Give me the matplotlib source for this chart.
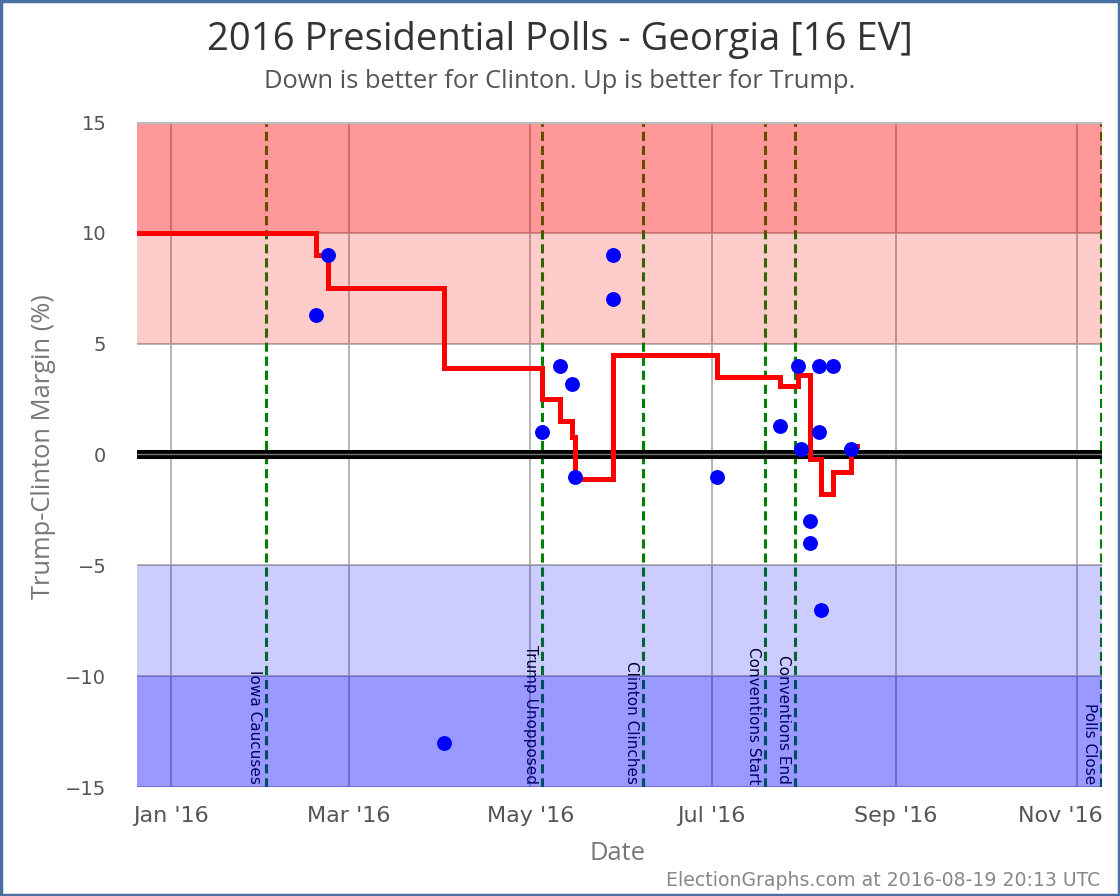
import datetime as dt
import matplotlib
matplotlib.use("Agg")
import matplotlib.pyplot as plt
import matplotlib.dates as mdates
import matplotlib.transforms as mtransforms
from matplotlib.patches import Rectangle

# ---- data ----
# running average (step line), value holds from the date on
avg_dates = ["2015-12-20", "2016-02-19", "2016-02-23", "2016-04-02", "2016-05-05",
             "2016-05-11", "2016-05-15", "2016-05-16", "2016-05-29", "2016-07-03",
             "2016-07-24", "2016-07-30", "2016-08-03", "2016-08-07", "2016-08-11",
             "2016-08-17", "2016-08-19"]
avg_values = [10.0, 9.0, 7.5, 3.9, 2.5, 1.5, 0.8, -1.1, 4.5, 3.5,
              3.1, 3.6, -0.2, -1.8, -0.8, 0.4, 0.4]

# individual polls
poll_dates = ["2016-02-19", "2016-02-23", "2016-04-02", "2016-05-05", "2016-05-11",
              "2016-05-15", "2016-05-16", "2016-05-29", "2016-05-29", "2016-07-03",
              "2016-07-24", "2016-07-30", "2016-07-31", "2016-08-03", "2016-08-03",
              "2016-08-06", "2016-08-06", "2016-08-07", "2016-08-11", "2016-08-17"]
poll_values = [6.3, 9.0, -13.0, 1.0, 4.0,
               3.2, -1.0, 9.0, 7.0, -1.0,
               1.3, 4.0, 0.25, -3.0, -4.0,
               4.0, 1.0, -7.0, 4.0, 0.25]

event_dates = ["2016-02-02", "2016-05-05", "2016-06-08", "2016-07-19", "2016-07-29", "2016-11-09"]
event_labels = ["Iowa Caucuses", "Trump Unopposed", "Clinton Clinches",
                "Conventions Start", "Conventions End", "Polls Close"]

# category bands: (low, high, colour, alpha)
bands = [(10, 15, "red", 0.4), (5, 10, "red", 0.2),
         (-10, -5, "blue", 0.2), (-15, -10, "blue", 0.4)]


def to_dt(s):
    return dt.datetime.strptime(s, "%Y-%m-%d")


head_font = "Open Sans"

W, H = 1120, 896
fig = plt.figure(figsize=(W / 100, H / 100), dpi=100)
ax = fig.add_axes([137 / W, (H - 787) / H, (1102 - 137) / W, (787 - 122) / H])

jan1 = dt.datetime(2016, 1, 1)
ax.set_xlim(jan1 - dt.timedelta(days=11.34), jan1 + dt.timedelta(days=313.4))
ax.set_ylim(-15, 15)

# grid
ax.set_yticks(range(-15, 16, 5))
ax.xaxis.set_major_locator(mdates.MonthLocator(bymonth=[1, 3, 5, 7, 9, 11]))
ax.xaxis.set_major_formatter(mdates.DateFormatter("%b '%y"))
ax.grid(True, color="#a8a8a8", linewidth=1.2, zorder=0)
ax.set_axisbelow(True)
ax.tick_params(length=0, labelcolor="#555555")
ax.tick_params(axis="x", labelsize=16, pad=14)
ax.tick_params(axis="y", labelsize=14, pad=22)
for s in ax.spines.values():
    s.set_visible(False)
ax.axhline(15, color="#bbbbbb", linewidth=2.5, zorder=3)

# event lines and labels (under the bands, like the original)
for d, lab in zip(event_dates, event_labels):
    x = to_dt(d)
    ax.axvline(x, color="#008000", linewidth=2.2, dashes=(3, 1.6), zorder=1)
    ax.annotate(lab, xy=(x, -15), xytext=(-3, 2), textcoords="offset points",
                rotation=270, ha="right", va="bottom", fontsize=11,
                color="black", family="DejaVu Sans", zorder=1)

# bands
for lo, hi, c, a in bands:
    ax.axhspan(lo, hi, color=c, alpha=a, linewidth=0, zorder=2)

# zero line
ax.axhline(0, color="black", linewidth=6.5, zorder=3)
ax.axhline(0, color="#777777", linewidth=1.0, zorder=3)

# average
ax.plot([to_dt(d) for d in avg_dates], avg_values, drawstyle="steps-post",
        color="red", linewidth=3.6, zorder=4, solid_joinstyle="miter")

# polls
ax.scatter([to_dt(d) for d in poll_dates], poll_values, s=115, color="blue",
           linewidths=0, zorder=5)

# the last month label is pulled inside the frame in the original
fig.canvas.draw()
last = ax.get_xticklabels()[-1]
last.set_transform(last.get_transform() +
                   mtransforms.ScaledTranslation(-0.17, 0, fig.dpi_scale_trans))

# text
fig.text(0.5, 1 - 40 / H, "2016 Presidential Polls - Georgia [16 EV]",
         ha="center", va="center", fontsize=27.5, color="#333333", family=head_font)
fig.text(0.5, 1 - 81 / H, "Down is better for Clinton. Up is better for Trump.",
         ha="center", va="center", fontsize=18.4, color="#555555", family=head_font)
fig.text(44 / W, 1 - 447 / H, "Trump-Clinton Margin (%)", rotation=90,
         ha="center", va="center", fontsize=18.4, color="#777777", family=head_font)
fig.text(617 / W, 1 - 853 / H, "Date", ha="center", va="center",
         fontsize=18.4, color="#777777", family=head_font)
fig.text(1100 / W, 1 - 880 / H, "ElectionGraphs.com at 2016-08-19 20:13 UTC",
         ha="right", va="center", fontsize=13.6, color="#888888", family="DejaVu Sans")

# blue frame round the figure
fig.patches.append(Rectangle((0.001, 0.001), 0.998, 0.998, transform=fig.transFigure,
                             fill=False, edgecolor="#4a6fa5", linewidth=2.5))

fig.savefig("out.png", dpi=100)
